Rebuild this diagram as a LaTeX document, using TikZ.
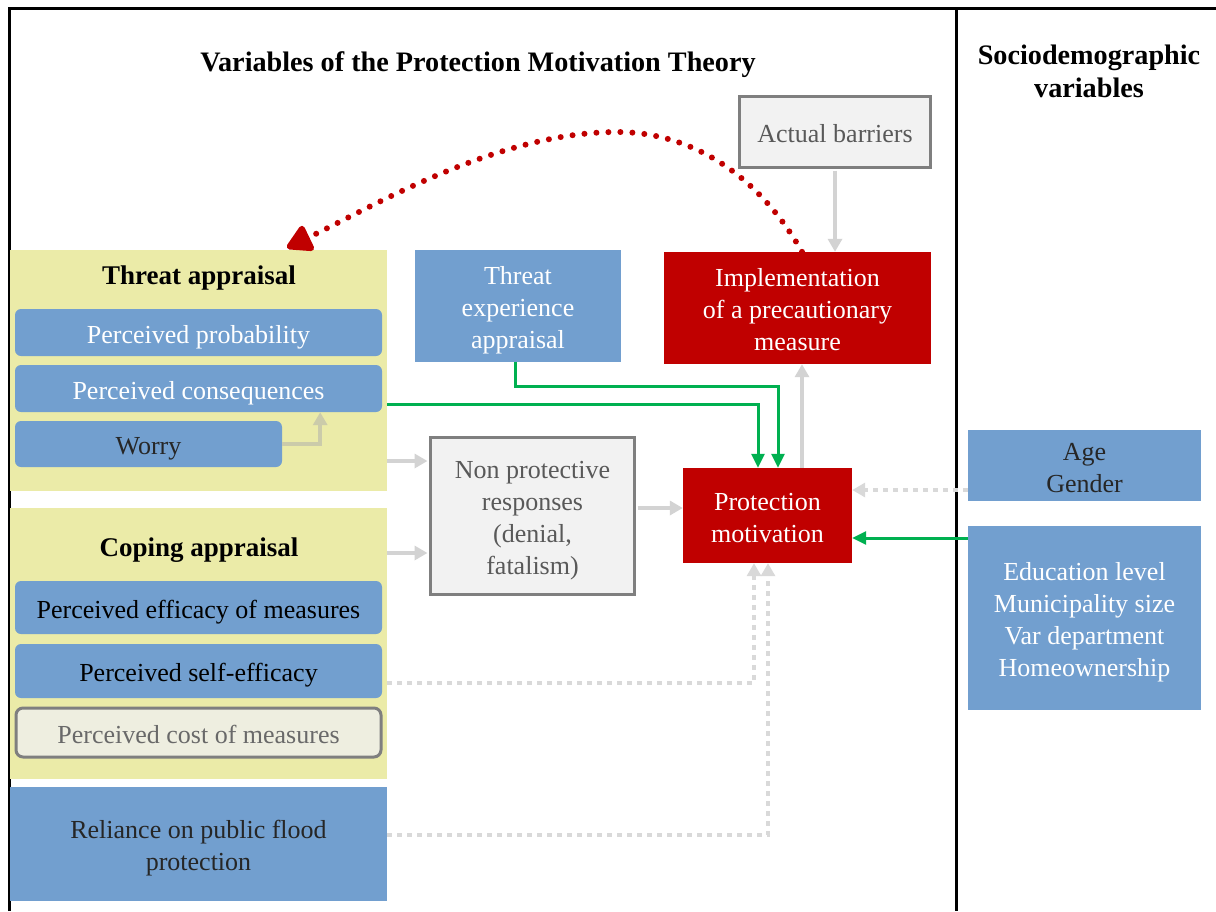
\documentclass[tikz,border=0pt]{standalone}
\usepackage{fontspec}
\setmainfont{Liberation Serif}
\usetikzlibrary{arrows.meta,calc}
\definecolor{cyellow}{RGB}{235,235,168}
\definecolor{cblue}{RGB}{114,159,207}
\definecolor{cred}{RGB}{192,0,0}
\definecolor{cgrayfill}{RGB}{242,242,242}
\definecolor{cgrayline}{RGB}{127,127,127}
\definecolor{ccostfill}{RGB}{238,238,224}
\definecolor{cgreen}{RGB}{0,176,80}
\definecolor{carrowgray}{RGB}{211,211,211}
\definecolor{cdotgray}{RGB}{217,217,217}
\definecolor{cworryarrow}{RGB}{203,203,170}
\definecolor{cdark}{RGB}{38,38,38}
\definecolor{cgraytext}{RGB}{89,89,89}
\definecolor{ccosttext}{RGB}{105,105,105}
\newcommand\lt[1]{\raisebox{-4.5pt}[\height][\depth]{\begin{tabular}{@{}c@{}}#1\end{tabular}}}
\tikzset{
  body/.style={font=\fontsize{26}{32}\selectfont, inner sep=0pt},
  header/.style={font=\fontsize{27}{33}\selectfont\bfseries, inner sep=0pt, text=black},
  topheader/.style={font=\fontsize{28.2}{33}\selectfont\bfseries, inner sep=0pt, text=black},
  ybox/.style={fill=cyellow, draw=none, inner sep=0pt},
  bluebox/.style={body, fill=cblue, draw=none, rounded corners=6pt},
  bluesq/.style={body, fill=cblue, draw=none},
  redbox/.style={body, fill=cred, draw=none, text=white},
  graybox/.style={body, fill=cgrayfill, draw=cgrayline, line width=3pt, text=cgraytext},
  grayarr/.style={draw=carrowgray, line width=4pt, -{Triangle[length=13pt,width=14pt]}},
  worryarr/.style={draw=cworryarrow, line width=4pt, -{Triangle[length=13pt,width=14pt]}},
  greenarr/.style={draw=cgreen, line width=3pt, -{Triangle[length=14pt,width=13pt]}},
  dotarr/.style={draw=cdotgray, line width=4pt, dash pattern=on 5pt off 5pt, -{Triangle[length=13pt,width=14pt]}},
  reddots/.style={draw=cred, line width=6pt, line cap=round, dash pattern=on 0pt off 12pt, -{Triangle[length=28pt,width=30pt,round=false]}},
  framel/.style={draw=black, line width=3pt}
}
\begin{document}
\begin{tikzpicture}[x=1pt,y=-1pt]
\useasboundingbox (0,0) rectangle (1216,911);
% frame
\draw[framel] (9,911) -- (9,8) -- (1216,8);
\draw[framel] (956,8) -- (956,911);
% headings
\node[topheader] (title) at (478,60) {\lt{Variables of the Protection Motivation Theory}};
\node[topheader] (socio) at (1089,70) {\lt{Sociodemographic\\variables}};
% threat appraisal group
\node[ybox, minimum width=377pt, minimum height=241pt] (ta) at (198.5,370.5) {};
\node[header] (tah) at (199,273) {\lt{Threat appraisal}};
\node[bluebox, text=white, minimum width=367pt, minimum height=47pt] (pp) at (198.5,332.5) {\lt{Perceived probability}};
\node[bluebox, text=white, minimum width=367pt, minimum height=47pt] (pc) at (198.5,388.5) {\lt{Perceived consequences}};
\node[bluebox, text=cdark, minimum width=267pt, minimum height=46pt] (worry) at (148.5,444) {\lt{Worry}};
% coping appraisal group
\node[ybox, minimum width=377pt, minimum height=271pt] (ca) at (198.5,643.5) {};
\node[header] (cah) at (199,545) {\lt{Coping appraisal}};
\node[bluebox, text=black, minimum width=367pt, minimum height=53pt] (pe) at (198.5,607.5) {\lt{Perceived efficacy of measures}};
\node[bluebox, text=black, minimum width=367pt, minimum height=54pt] (pse) at (198.5,671) {\lt{Perceived self-efficacy}};
\node[body, fill=ccostfill, draw=cgrayline, line width=3pt, rounded corners=7pt, text=ccosttext, minimum width=365pt, minimum height=49pt] (pcm) at (198.5,732.5) {\lt{Perceived cost of measures}};
% reliance
\node[bluesq, text=cdark, minimum width=377pt, minimum height=114pt] (rel) at (198.5,844) {\lt{Reliance on public flood\\protection}};
% middle
\node[bluesq, text=white, minimum width=206pt, minimum height=112pt] (tea) at (518,306) {\lt{Threat\\experience\\appraisal}};
\node[redbox, minimum width=267pt, minimum height=112pt] (impl) at (797.5,308) {\lt{Implementation\\of a precautionary\\measure}};
\node[graybox, minimum width=191pt, minimum height=71pt] (ab) at (835,132) {\lt{Actual barriers}};
\node[graybox, minimum width=204pt, minimum height=157pt] (npr) at (532.5,516) {\lt{Non protective\\responses\\(denial,\\fatalism)}};
\node[redbox, minimum width=169pt, minimum height=95pt] (pm) at (767.5,515.5) {\lt{Protection\\motivation}};
% sociodemographic
\node[bluesq, text=cdark, minimum width=233pt, minimum height=71pt] (ag) at (1084.5,465.5) {\lt{Age\\Gender}};
\node[bluesq, text=white, minimum width=233pt, minimum height=184pt] (edu) at (1084.5,618) {\lt{Education level\\Municipality size\\Var department\\Homeownership}};
% connectors
\draw[worryarr] (worry.east) -| ([xshift=-62pt]pc.south east);
\coordinate (n1) at ([yshift=55pt]npr.west);
\coordinate (n2) at ([yshift=-37pt]npr.west);
\draw[grayarr] (n1 -| ta.east) -- ([xshift=-1.5pt]n1);
\draw[grayarr] (n2 -| ca.east) -- ([xshift=-1.5pt]n2);
\coordinate (n3) at ([yshift=8pt]npr.east);
\draw[grayarr] ([xshift=1.5pt]n3) -- (n3 -| pm.west);
\draw[grayarr] ([yshift=-1.5pt]ab.south) -- (ab.south |- impl.north);
\draw[grayarr] ([xshift=34.5pt]pm.north) -- ([xshift=34.5pt]pm.north |- impl.south);
\coordinate (g0) at ([yshift=-15.5pt]pc.east);
\coordinate (g1) at ([xshift=-9.5pt]pm.north);
\coordinate (g2) at ([xshift=10.5pt]pm.north);
\draw[greenarr] (g0 -| ta.east) -| (g1);
\draw[greenarr] ([xshift=-3pt]tea.south) -- ++(0,24) -| (g2);
\coordinate (e1) at ([yshift=80pt]edu.west);
\draw[greenarr] (e1) -- (e1 -| pm.east);
\coordinate (a1) at ([yshift=-24.5pt]ag.west);
\draw[dotarr] (a1) -- (a1 -| pm.east);
\coordinate (s1) at ([yshift=-12pt]pse.east);
\draw[dotarr] (s1 -| ca.east) -| ([xshift=-13.5pt]pm.south);
\coordinate (r1) at ([yshift=9pt]rel.east);
\draw[dotarr] (r1) -| ([xshift=0.5pt]pm.south);
\coordinate (rpeak) at (617,132);
\draw[reddots] ([xshift=4.5pt]impl.north) .. controls (762,181) and (697,132) .. (rpeak)
   .. controls (497,132) and (370,208) .. ([xshift=88.5pt,yshift=2pt]ta.north);
\end{tikzpicture}
\end{document}
